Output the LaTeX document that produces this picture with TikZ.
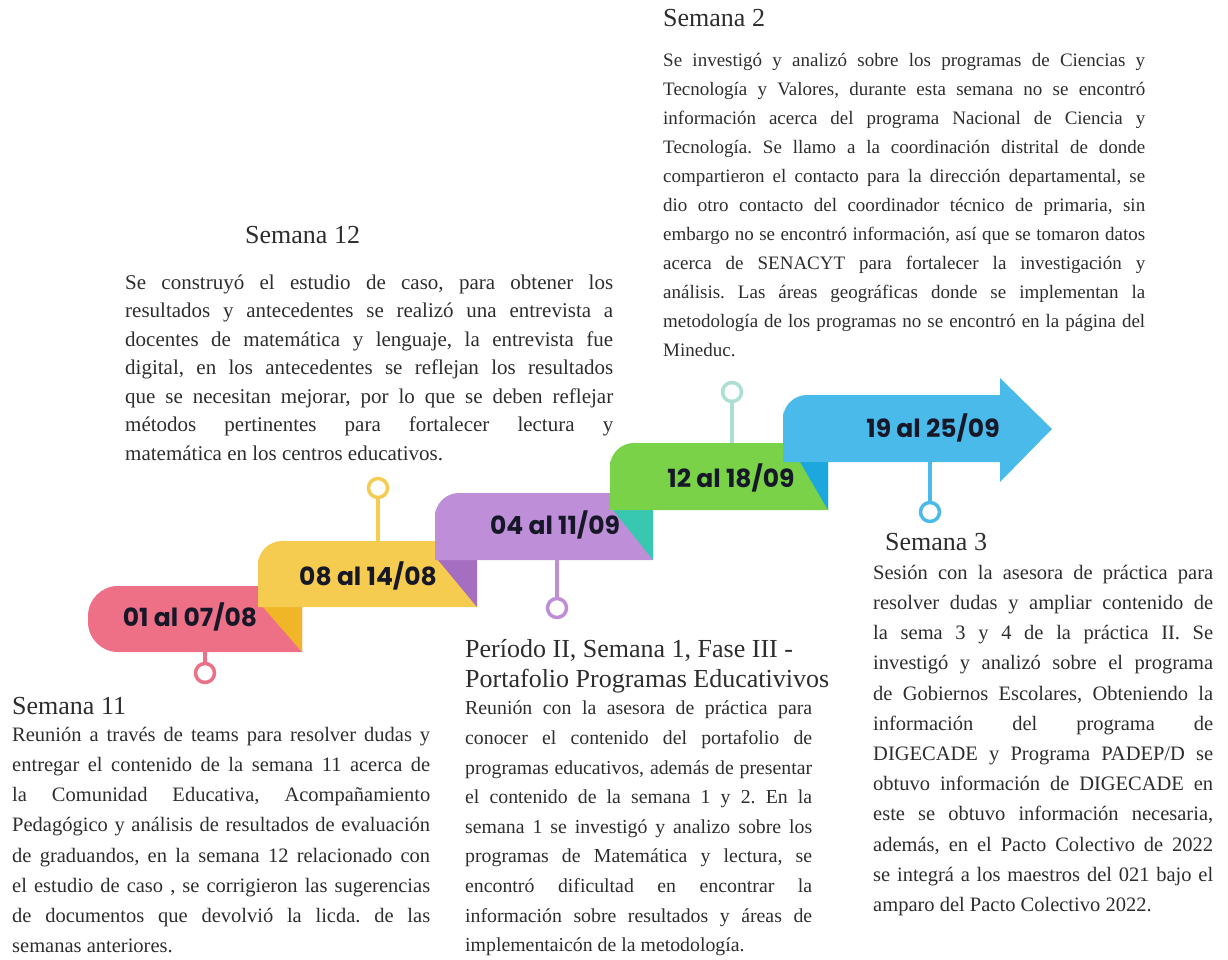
\documentclass[tikz,border=0pt]{standalone}
\usepackage{fontspec}
\usepackage{xcolor}
\usepackage{tikz}
\usetikzlibrary{positioning}
\setmainfont{Liberation Serif}
\newfontfamily\datefont{Poppins}
\definecolor{ribpink}{RGB}{238,112,134}
\definecolor{ribyellow}{RGB}{246,204,80}
\definecolor{foldyellow}{RGB}{240,182,40}
\definecolor{ribpurple}{RGB}{190,142,216}
\definecolor{foldpurple}{RGB}{166,110,192}
\definecolor{ribgreen}{RGB}{122,210,72}
\definecolor{foldteal}{RGB}{56,200,178}
\definecolor{ribblue}{RGB}{74,186,234}
\definecolor{foldblue}{RGB}{28,168,222}
\definecolor{pinteal}{RGB}{172,222,212}
\definecolor{ink}{RGB}{22,24,40}
\definecolor{bodygray}{RGB}{45,45,45}
\tolerance=10000 \hyphenpenalty=10000 \hbadness=10000
\frenchspacing

\begin{document}
\begin{tikzpicture}[x=1pt, y=-1pt,
    datelbl/.style={font=\datefont\bfseries\fontsize{25}{30}\selectfont, text=ink, inner sep=0pt},
    pinring/.style={circle, draw=#1, line width=3.5pt, fill=white, minimum size=19pt, inner sep=0pt},
    pinstem/.style={draw=#1, line width=3.5pt},
    headtxt/.style={anchor=base west, inner sep=0pt, text=bodygray, font=\fontsize{26}{30}\selectfont},
    bodytxt/.style={anchor=north west, inner sep=0pt, align=justify, text=bodygray}
]
    \useasboundingbox (0,0) rectangle (1228,960);

    % ribbon steps
    \fill[ribpink] (200,586) [rounded corners=30pt] -- (88,586) -- (88,652) -- (200,652) [sharp corners] -- (302,652) -- (302,586) -- cycle;
    \fill[foldyellow] (263,607) -- (302,607) -- (302,652) -- cycle;
    \fill[ribyellow] (350,541) [rounded corners=24pt] -- (258,541) -- (258,580) [sharp corners] -- (258,607) -- (477,607) -- (477,541) -- cycle;
    \fill[foldpurple] (438,560) -- (477,560) -- (477,607) -- cycle;
    \fill[ribpurple] (530,493) [rounded corners=24pt] -- (435,493) -- (435,530) [sharp corners] -- (435,560) -- (653,560) -- (653,493) -- cycle;
    \fill[foldteal] (613,510) -- (653,510) -- (653,560) -- cycle;
    \fill[ribgreen] (700,443) [rounded corners=24pt] -- (610,443) -- (610,480) [sharp corners] -- (610,510) -- (828,510) -- (828,443) -- cycle;
    \fill[foldblue] (800,462) -- (828,462) -- (828,510) -- cycle;
    \fill[ribblue] (880,395) [rounded corners=24pt] -- (783,395) -- (783,430) [sharp corners] -- (783,462) -- (1000,462) -- (1000,482) -- (1052,429) -- (1000,378) -- (1000,395) -- cycle;

    \node[datelbl] (d1) at (190,617) {01 al 07/08};
    \node[datelbl] (d2) at (368,576) {08 al 14/08};
    \node[datelbl] (d3) at (555,525) {04 al 11/09};
    \node[datelbl] (d4) at (731,478) {12 al 18/09};
    \node[datelbl] (d5) at (933,428) {19 al 25/09};

    % pins
    \coordinate (s1) at (205,652);
    \coordinate (s2) at (378,541);
    \coordinate (s3) at (557,560);
    \coordinate (s4) at (732,443);
    \coordinate (s5) at (930,462);
    \node[pinring=ribpink] (c1) at (205,673) {};
    \node[pinring=ribyellow] (c2) at (378,488) {};
    \node[pinring=ribpurple] (c3) at (557,608) {};
    \node[pinring=pinteal] (c4) at (732,392) {};
    \node[pinring=ribblue] (c5) at (930,512) {};
    \draw[pinstem=ribpink] (s1) -- (c1);
    \draw[pinstem=ribyellow] (s2) -- (c2);
    \draw[pinstem=ribpurple] (s3) -- (c3);
    \draw[pinstem=pinteal] (s4) -- (c4);
    \draw[pinstem=ribblue] (s5) -- (c5);

    % texts
    \node[headtxt] (h2) at (663,27) {Semana 2};
    \node[bodytxt, text width=482pt, font=\fontsize{19}{29}\selectfont] (t2) at (663,46) {\strut
        Se investigó y analizó sobre los programas de Ciencias y\linebreak
        Tecnología y Valores, durante esta semana no se encontró\linebreak
        información acerca del programa Nacional de Ciencia y\linebreak
        Tecnología. Se llamo a la coordinación distrital de donde\linebreak
        compartieron el contacto para la dirección departamental, se\linebreak
        dio otro contacto del coordinador técnico de primaria, sin\linebreak
        embargo no se encontró información, así que se tomaron datos\linebreak
        acerca de SENACYT para fortalecer la investigación y\linebreak
        análisis. Las áreas geográficas donde se implementan la\linebreak
        metodología de los programas no se encontró en la página del\linebreak
        Mineduc.};

    \node[headtxt] (h12) at (245,243) {Semana 12};
    \node[bodytxt, text width=488pt, font=\fontsize{21}{28.5}\selectfont] (t12) at (125,269) {\strut
        Se construyó el estudio de caso, para obtener los\linebreak
        resultados y antecedentes se realizó una entrevista a\linebreak
        docentes de matemática y lenguaje, la entrevista fue\linebreak
        digital, en los antecedentes se reflejan los resultados\linebreak
        que se necesitan mejorar, por lo que se deben reflejar\linebreak
        métodos pertinentes para fortalecer lectura y\linebreak
        matemática en los centros educativos.};

    \node[headtxt] (h11) at (12,714) {Semana 11};
    \node[bodytxt, text width=418pt, font=\fontsize{20.5}{30.2}\selectfont] (t11) at (12,720) {\strut
        Reunión a través de teams para resolver dudas y\linebreak
        entregar el contenido de la semana 11 acerca de\linebreak
        la Comunidad Educativa, Acompañamiento\linebreak
        Pedagógico y análisis de resultados de evaluación\linebreak
        de graduandos, en la semana 12 relacionado con\linebreak
        el estudio de caso , se corrigieron las sugerencias\linebreak
        de documentos que devolvió la licda. de las\linebreak
        semanas anteriores.};

    \node[headtxt] (h1a) at (465,657) {Período II, Semana 1, Fase III -};
    \node[headtxt] (h1b) at (465,687) {Portafolio Programas Educativivos};
    \node[bodytxt, text width=347pt, font=\fontsize{19.8}{29.6}\selectfont] (t1) at (465,694) {\strut
        Reunión con la asesora de práctica para\linebreak
        conocer el contenido del portafolio de\linebreak
        programas educativos, además de presentar\linebreak
        el contenido de la semana 1 y 2. En la\linebreak
        semana 1 se investigó y analizo sobre los\linebreak
        programas de Matemática y lectura, se\linebreak
        encontró dificultad en encontrar la\linebreak
        información sobre resultados y áreas de\linebreak
        implementaicón de la metodología.};

    \node[headtxt] (h3) at (885,550) {Semana 3};
    \node[bodytxt, text width=340pt, font=\fontsize{20.5}{30.2}\selectfont] (t3) at (873,558) {\strut
        Sesión con la asesora de práctica para\linebreak
        resolver dudas y ampliar contenido de\linebreak
        la sema 3 y 4 de la práctica II. Se\linebreak
        investigó y analizó sobre el programa\linebreak
        de Gobiernos Escolares, Obteniendo la\linebreak
        información del programa de\linebreak
        DIGECADE y Programa PADEP/D se\linebreak
        obtuvo información de DIGECADE en\linebreak
        este se obtuvo información necesaria,\linebreak
        además, en el Pacto Colectivo de 2022\linebreak
        se integrá a los maestros del 021 bajo el\linebreak
        amparo del Pacto Colectivo 2022.};
\end{tikzpicture}
\end{document}
